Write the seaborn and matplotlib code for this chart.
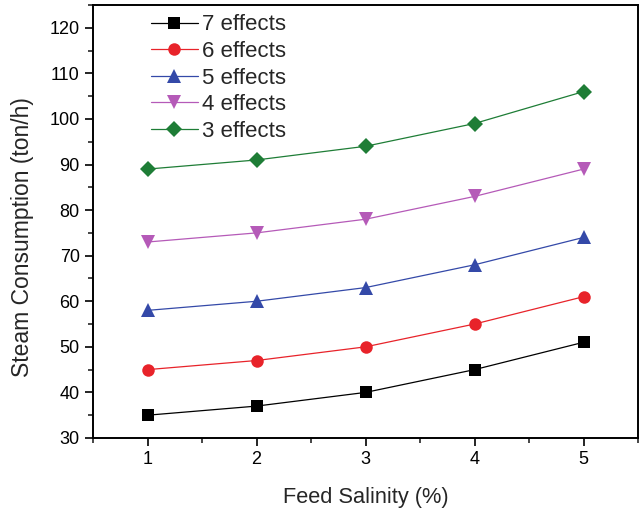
import numpy as np
import pandas as pd
import matplotlib
matplotlib.use("Agg")
import matplotlib.pyplot as plt
from matplotlib.ticker import MultipleLocator
import seaborn as sns

# Feed salinity (%) and steam consumption (ton/h) per number of effects
salinity = [1, 2, 3, 4, 5]
effects_7 = [35, 37, 40, 45, 51]
effects_6 = [45, 47, 50, 55, 61]
effects_5 = [58, 60, 63, 68, 74]
effects_4 = [73, 75, 78, 83, 89]
effects_3 = [89, 91, 94, 99, 106]
series_names = ["7 effects", "6 effects", "5 effects", "4 effects", "3 effects"]

series_values = [effects_7, effects_6, effects_5, effects_4, effects_3]
df = pd.DataFrame({
    "salinity": np.tile(salinity, len(series_names)),
    "steam": np.concatenate(series_values),
    "series": np.repeat(series_names, len(salinity)),
})

sns.set_theme(style="ticks")
plt.rcParams["font.family"] = ["Liberation Sans", "DejaVu Sans"]

colors = {
    "7 effects": "#000000",
    "6 effects": "#e8232a",
    "5 effects": "#3449a8",
    "4 effects": "#b55ab8",
    "3 effects": "#1e7d36",
}
markers = {
    "7 effects": "s",
    "6 effects": "o",
    "5 effects": "^",
    "4 effects": "v",
    "3 effects": "D",
}
sizes = {"s": 8, "o": 9, "^": 10, "v": 10, "D": 8}

fig = plt.figure(figsize=(6.43, 5.14), dpi=100)
ax = fig.add_axes([93 / 643, 1 - 438 / 514, 545 / 643, 433 / 514])

sns.lineplot(
    data=df, x="salinity", y="steam", hue="series", style="series",
    hue_order=series_names, style_order=series_names,
    palette=colors, markers=markers, dashes=False,
    linewidth=0.9, markeredgewidth=0, markersize=9, ax=ax,
)
for line, name in zip(ax.lines, series_names):
    line.set_markersize(sizes[markers[name]])

ax.set_xlim(0.5, 5.5)
ax.set_ylim(30, 125)
ax.xaxis.set_major_locator(MultipleLocator(1))
ax.xaxis.set_minor_locator(MultipleLocator(0.5))
ax.yaxis.set_major_locator(MultipleLocator(10))
ax.yaxis.set_minor_locator(MultipleLocator(5))
ax.tick_params(which="major", direction="out", length=6, width=1.2,
               labelsize=13, colors="#000000", top=False, right=False)
ax.tick_params(which="minor", direction="out", length=3.5, width=1.2,
               top=False, right=False)
for s in ax.spines.values():
    s.set_linewidth(1.4)
    s.set_color("#000000")
    s.set_visible(True)

ax.set_xlabel("Feed Salinity (%)", fontsize=15.7)
ax.xaxis.set_label_coords(0.5, -0.113)
ax.set_ylabel("Steam Consumption (ton/h)", fontsize=16.5)
ax.yaxis.set_label_coords(-0.108, 0.465)

handles, labels = ax.get_legend_handles_labels()
for h, name in zip(handles, labels):
    h.set_markersize(sizes[markers[name]])
ax.legend(handles, labels, loc="upper left", bbox_to_anchor=(0.078, 1.014),
          frameon=False, fontsize=16, handlelength=2.1, handletextpad=0.2,
          labelspacing=0.25, borderaxespad=0.3)

fig.savefig("out.png", dpi=100)
